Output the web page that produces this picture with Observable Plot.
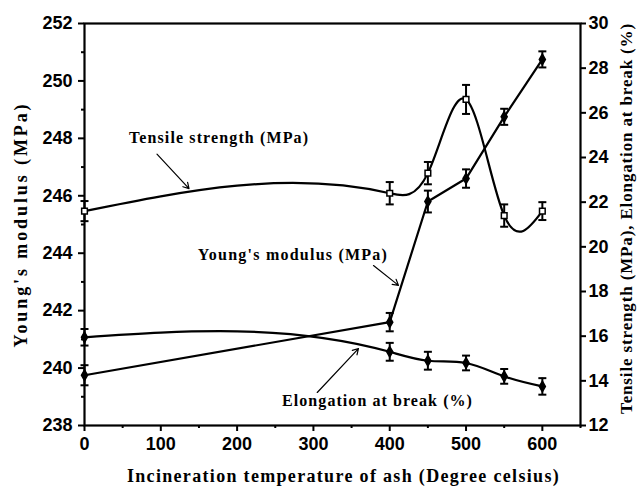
<!DOCTYPE html>
<html>
<head>
<meta charset="utf-8">
<script src="https://cdn.jsdelivr.net/npm/d3@7"></script>
<script src="https://cdn.jsdelivr.net/npm/@observablehq/plot@0.6"></script>
<style>
  html, body { margin: 0; padding: 0; background: #fff; }
</style>
</head>
<body>
<div id="chart"></div>
<script>
// ---- data ----
const temps = [0, 400, 450, 500, 550, 600];
const youngs = [239.75, 241.6, 245.8, 246.6, 248.75, 250.75];   // left axis (MPa)
const youngsErr = [0.35, 0.32, 0.38, 0.32, 0.28, 0.28];
const tensile = [21.6, 22.4, 23.3, 26.6, 21.4, 21.6];             // right axis (MPa)
const tensileErr = [0.45, 0.5, 0.5, 0.65, 0.5, 0.4];
const elong = [15.95, 15.3, 14.9, 14.8, 14.2, 13.75];             // right axis (%)
const elongErr = [0.37, 0.4, 0.4, 0.33, 0.33, 0.37];

const xTicks = [0, 100, 200, 300, 400, 500, 600];
const xMinor = [50, 150, 250, 350, 450, 550, 650];
const leftTicks = [238, 240, 242, 244, 246, 248, 250, 252];
const leftMinor = [239, 241, 243, 245, 247, 249, 251];
const rightTicks = [12, 14, 16, 18, 20, 22, 24, 26, 28, 30];

const xTitle = "Incineration temperature of ash (Degree celsius)";
const yTitle = "Young's modulus (MPa)";
const y2Title = "Tensile strength (MPa), Elongation at break (%)";

const leftDomain = [238, 252];
const rightDomain = [12, 30];
const toLeft = v => leftDomain[0] + (v - rightDomain[0]) * (leftDomain[1] - leftDomain[0]) / (rightDomain[1] - rightDomain[0]);
const fromLeft = v => rightDomain[0] + (v - leftDomain[0]) * (rightDomain[1] - rightDomain[0]) / (leftDomain[1] - leftDomain[0]);

const rows = (vals, errs, conv) => temps.map((t, i) => ({
  x: t, y: conv(vals[i]), lo: conv(vals[i] - errs[i]), hi: conv(vals[i] + errs[i])
}));
const id = v => v;
const Y = rows(youngs, youngsErr, id);
const T = rows(tensile, tensileErr, toLeft);
const E = rows(elong, elongErr, toLeft);

// curve factory: natural cubic spline of y as a function of x (as in the original software)
function SplineX(context) { this._context = context; }
SplineX.prototype = {
  areaStart() { this._line = 0; },
  areaEnd() { this._line = NaN; },
  lineStart() { this._x = []; this._y = []; },
  point(x, y) { this._x.push(+x); this._y.push(+y); },
  lineEnd() {
    const xs = this._x, ys = this._y, n = xs.length, c = this._context;
    if (n === 0) return;
    if (this._line) c.lineTo(xs[0], ys[0]); else c.moveTo(xs[0], ys[0]);
    if (n < 3) { for (let i = 1; i < n; i++) c.lineTo(xs[i], ys[i]); }
    else {
      const h = [], s = [];
      for (let i = 0; i < n - 1; i++) { h.push(xs[i + 1] - xs[i]); s.push((ys[i + 1] - ys[i]) / h[i]); }
      const m = n - 2, a = [], b = [], cc = [], d = [];
      for (let i = 1; i <= m; i++) {
        a.push(h[i - 1]); b.push(2 * (h[i - 1] + h[i])); cc.push(h[i]); d.push(6 * (s[i] - s[i - 1]));
      }
      for (let i = 1; i < m; i++) { const w = a[i] / b[i - 1]; b[i] -= w * cc[i - 1]; d[i] -= w * d[i - 1]; }
      const Mi = new Array(m);
      Mi[m - 1] = d[m - 1] / b[m - 1];
      for (let i = m - 2; i >= 0; i--) Mi[i] = (d[i] - cc[i] * Mi[i + 1]) / b[i];
      const M = [0, ...Mi, 0];
      for (let i = 0; i < n - 1; i++) {
        const d0 = s[i] - h[i] * (2 * M[i] + M[i + 1]) / 6;
        const d1 = s[i] + h[i] * (M[i] + 2 * M[i + 1]) / 6;
        c.bezierCurveTo(xs[i] + h[i] / 3, ys[i] + d0 * h[i] / 3, xs[i + 1] - h[i] / 3, ys[i + 1] - d1 * h[i] / 3, xs[i + 1], ys[i + 1]);
      }
    }
    this._line = 1 - this._line;
  }
};
const splineX = context => new SplineX(context);

const cap = { draw(ctx, size) { const r = Math.sqrt(size / Math.PI); ctx.moveTo(-r, 0); ctx.lineTo(r, 0); } };

function series(data, curve, symbol, fill) {
  return [
    Plot.line(data, { x: "x", y: "y", curve, stroke: "#000", strokeWidth: 2.2 }),
    Plot.ruleX(data, { x: "x", y1: "lo", y2: "hi", stroke: "#000", strokeWidth: 2 }),
    Plot.dot(data, { x: "x", y: "lo", symbol: cap, r: 4, stroke: "#000", strokeWidth: 2 }),
    Plot.dot(data, { x: "x", y: "hi", symbol: cap, r: 4, stroke: "#000", strokeWidth: 2 }),
    Plot.dot(data, { x: "x", y: "y", symbol, r: 3.2, fill, stroke: "#000", strokeWidth: 1.5 })
  ];
}

const labels = [
  { x: 176.3, y: 248.0, t: "Tensile strength (MPa)" },
  { x: 273.2, y: 243.95, t: "Young's modulus (MPa)" },
  { x: 384, y: 238.87, t: "Elongation at break (%)" }
];
const arrows = [
  { x1: 95, y1: 247.45, x2: 137, y2: 246.25 },
  { x1: 378.7, y1: 243.57, x2: 411.5, y2: 242.88 },
  { x1: 305, y1: 239.15, x2: 359, y2: 240.68 }
];

const chart = Plot.plot({
  width: 637,
  height: 491,
  marginLeft: 84,
  marginRight: 57,
  marginTop: 23,
  marginBottom: 66,
  style: { fontFamily: "'Liberation Sans', Arial, sans-serif", fontSize: "18px", fontWeight: "bold", background: "#fff", color: "#000" },
  x: { domain: [0, 650] },
  y: { domain: leftDomain },
  marks: [
    Plot.axisX({ ticks: xTicks, tickSize: 6, tickPadding: 6, strokeWidth: 2, label: null }),
    Plot.axisX({ ticks: xMinor, tickSize: 3, tickFormat: () => "", strokeWidth: 2, label: null }),
    Plot.axisY({ ticks: leftTicks, tickSize: 6, tickPadding: 6, strokeWidth: 2, label: null }),
    Plot.axisY({ ticks: leftMinor, tickSize: 3, tickFormat: () => "", strokeWidth: 2, label: null }),
    Plot.axisY({ anchor: "right", ticks: rightTicks.map(toLeft), tickFormat: d => Math.round(fromLeft(d)), tickSize: 5, tickPadding: 3, strokeWidth: 2, label: null }),
    Plot.frame({ stroke: "#000", strokeWidth: 2.2 }),
    ...series(T, splineX, "square", "#fff"),
    ...series(E, splineX, "diamond", "#000"),
    ...series(Y, "linear", "diamond", "#000"),
    Plot.text(labels, { x: "x", y: "y", text: "t", fontSize: 16, fill: "#000" }),
    Plot.arrow(arrows, { x1: "x1", y1: "y1", x2: "x2", y2: "y2", stroke: "#000", strokeWidth: 1.2, headLength: 8 }),
    Plot.text([yTitle], { frameAnchor: "left", textAnchor: "middle", rotate: -90, dx: -63, fontSize: 18 }),
    Plot.text([y2Title], { frameAnchor: "right", textAnchor: "middle", rotate: -90, dx: 46, dy: -6, fontSize: 17 }),
    Plot.text([xTitle], { frameAnchor: "bottom", dy: 56, dx: 11, fontSize: 18 })
  ]
});
document.getElementById("chart").appendChild(chart);

// bold serif for the titles and annotations, spaced out to the widths seen in the reference
const serif = "'Liberation Serif', 'Times New Roman', serif";
const fit = new Map([
  ["Tensile strength (MPa)", { size: 16, width: 179 }],
  ["Young's modulus (MPa)", { size: 16, width: 189 }],
  ["Elongation at break (%)", { size: 16, width: 190 }],
  [yTitle + "|r", { size: 18, width: 243 }],
  [y2Title + "|r", { size: 17, width: 390 }],
  [xTitle, { size: 18, width: 432 }]
]);
chart.querySelectorAll("text").forEach(t => {
  const rotated = (t.getAttribute("transform") || "").includes("rotate");
  const f = fit.get(t.textContent + (rotated ? "|r" : ""));
  if (!f) return;
  t.style.fontFamily = serif;
  t.style.fontWeight = "bold";
  t.style.fontSize = f.size + "px";
  const natural = t.getComputedTextLength();
  const n = t.textContent.length;
  if (natural > 0 && n > 1) {
    const ls = Math.max(0, (f.width - natural) / (n - 1));
    t.style.letterSpacing = ls.toFixed(2) + "px";
  }
});
</script>
</body>
</html>
